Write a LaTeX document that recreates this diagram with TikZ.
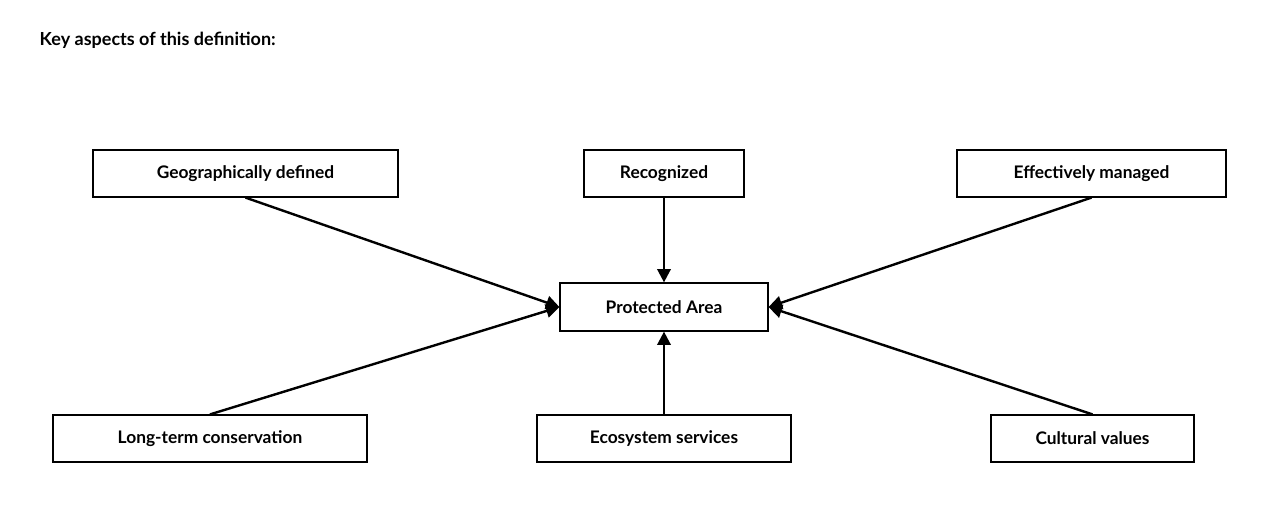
\documentclass[tikz,border=0pt]{standalone}
\usepackage{fontspec}
\setmainfont{Lato}
\usetikzlibrary{arrows.meta}
\begin{document}
\begin{tikzpicture}[x=0.75pt,y=-0.75pt,
  box/.style={draw,line width=0.9pt,inner sep=0pt,minimum height=35.25pt,font=\bfseries\fontsize{13}{15}\selectfont},
  arr/.style={line width=1.8pt,-{Triangle[length=10pt,width=10pt]}}]
\useasboundingbox (0,0) rectangle (1272,506);
\node[anchor=west,font=\bfseries\fontsize{13.5}{16}\selectfont] (title) at (35,40) {Key aspects of this definition:};
\node[box,minimum width=228.75pt] (geo) at (245.5,173.5) {Geographically defined};
\node[box,minimum width=120pt] (rec) at (664,173.5) {Recognized};
\node[box,minimum width=201.75pt] (eff) at (1091.5,173.5) {Effectively managed};
\node[box,minimum width=156pt,minimum height=36pt] (pa) at (664,307) {Protected Area};
\node[box,minimum width=235.5pt] (lt) at (210,438.5) {Long-term conservation};
\node[box,minimum width=190.5pt] (eco) at (664,438.5) {Ecosystem services};
\node[box,minimum width=152.25pt] (cul) at (1092.5,438.5) {Cultural values};
\draw[arr] (geo.south) -- (pa.west);
\draw[arr] (rec.south) -- (pa.north);
\draw[arr] (eff.south) -- (pa.east);
\draw[arr] (lt.north) -- (pa.west);
\draw[arr] (eco.north) -- (pa.south);
\draw[arr] (cul.north) -- (pa.east);
\end{tikzpicture}
\end{document}
